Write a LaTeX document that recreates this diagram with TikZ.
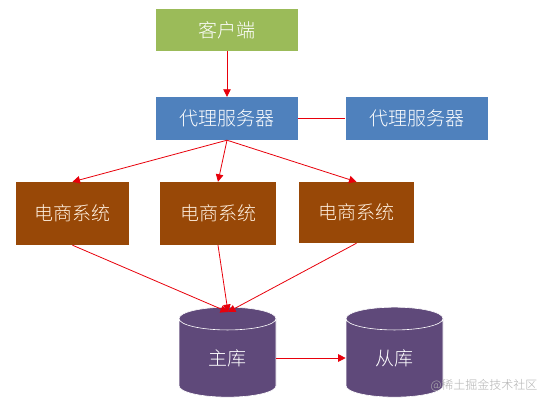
\documentclass[tikz,border=0pt]{standalone}
\usepackage{fontspec}
\newfontfamily\cjk{Noto Sans CJK SC}[UprightFont={* Light}]
\usetikzlibrary{arrows.meta,shapes.geometric}
\definecolor{cgreen}{HTML}{9BBB59}
\definecolor{cblue}{HTML}{4F81BD}
\definecolor{cbrown}{HTML}{984807}
\definecolor{cpurple}{HTML}{5F497A}
\definecolor{cred}{HTML}{E8000B}
\begin{document}
\begin{tikzpicture}[x=1pt,y=-1pt,
  box/.style={inner sep=0pt,minimum width=#1,text=white,font=\cjk\fontsize{19}{19}\selectfont},
  box/.default=142pt,
  sysbox/.style={fill=cbrown,inner sep=0pt,minimum width=114pt,minimum height=63pt,text={white!88!orange},font=\cjk\fontsize{19}{19}\selectfont},
  db/.style={cylinder,shape border rotate=90,aspect=0.6,fill=cpurple,draw=white,line width=0.6pt,minimum width=97pt,minimum height=90pt,inner sep=0pt,text=white,font=\cjk\fontsize{19}{19}\selectfont},
  conn/.style={draw=cred,line width=0.8pt},
  arr/.style={conn,-{Triangle[width=7.5pt,length=7.5pt]}}]
\useasboundingbox (0,0) rectangle (545,405);
\fill[white] (0,0) rectangle (545,405);
\node[box,fill=cgreen,minimum height=42pt] (client) at (227,30) {客户端};
\node[box,fill=cblue,minimum height=43pt] (proxy1) at (227,118.5) {代理服务器};
\node[box,fill=cblue,minimum height=43pt] (proxy2) at (416.5,118.5) {代理服务器};
\node[sysbox,minimum width=113pt] (s1) at (72.5,213.5) {电商系统};
\node[sysbox,minimum width=116pt] (s2) at (218,213.5) {电商系统};
\node[sysbox,minimum width=115pt,minimum height=61pt] (s3) at (356.5,212.5) {电商系统};
\node[db] (master) at (227.5,358) {\raisebox{-14pt}{主库}};
\node[db] (slave) at (394.5,358) {\raisebox{-14pt}{从库}};
\node[text=black!30,font=\cjk\fontsize{12}{12}\selectfont,anchor=east] (wm) at (541,385) {@稀土掘金技术社区};
\coordinate (join) at (228,312);
\draw[arr] (client.south) -- (proxy1.north);
\draw[conn] (proxy1.east) -- (proxy2.west);
\draw[arr] (proxy1.south) -- (s1.north);
\draw[arr] (proxy1.south) -- (s2.north);
\draw[arr] (proxy1.south) -- (s3.north);
\draw[arr] (s1.south) -- (join);
\draw[arr] (s2.south) -- (join);
\draw[arr] (s3.south) -- (join);
\draw[arr] (master.east) -- (slave.west);
\end{tikzpicture}
\end{document}
